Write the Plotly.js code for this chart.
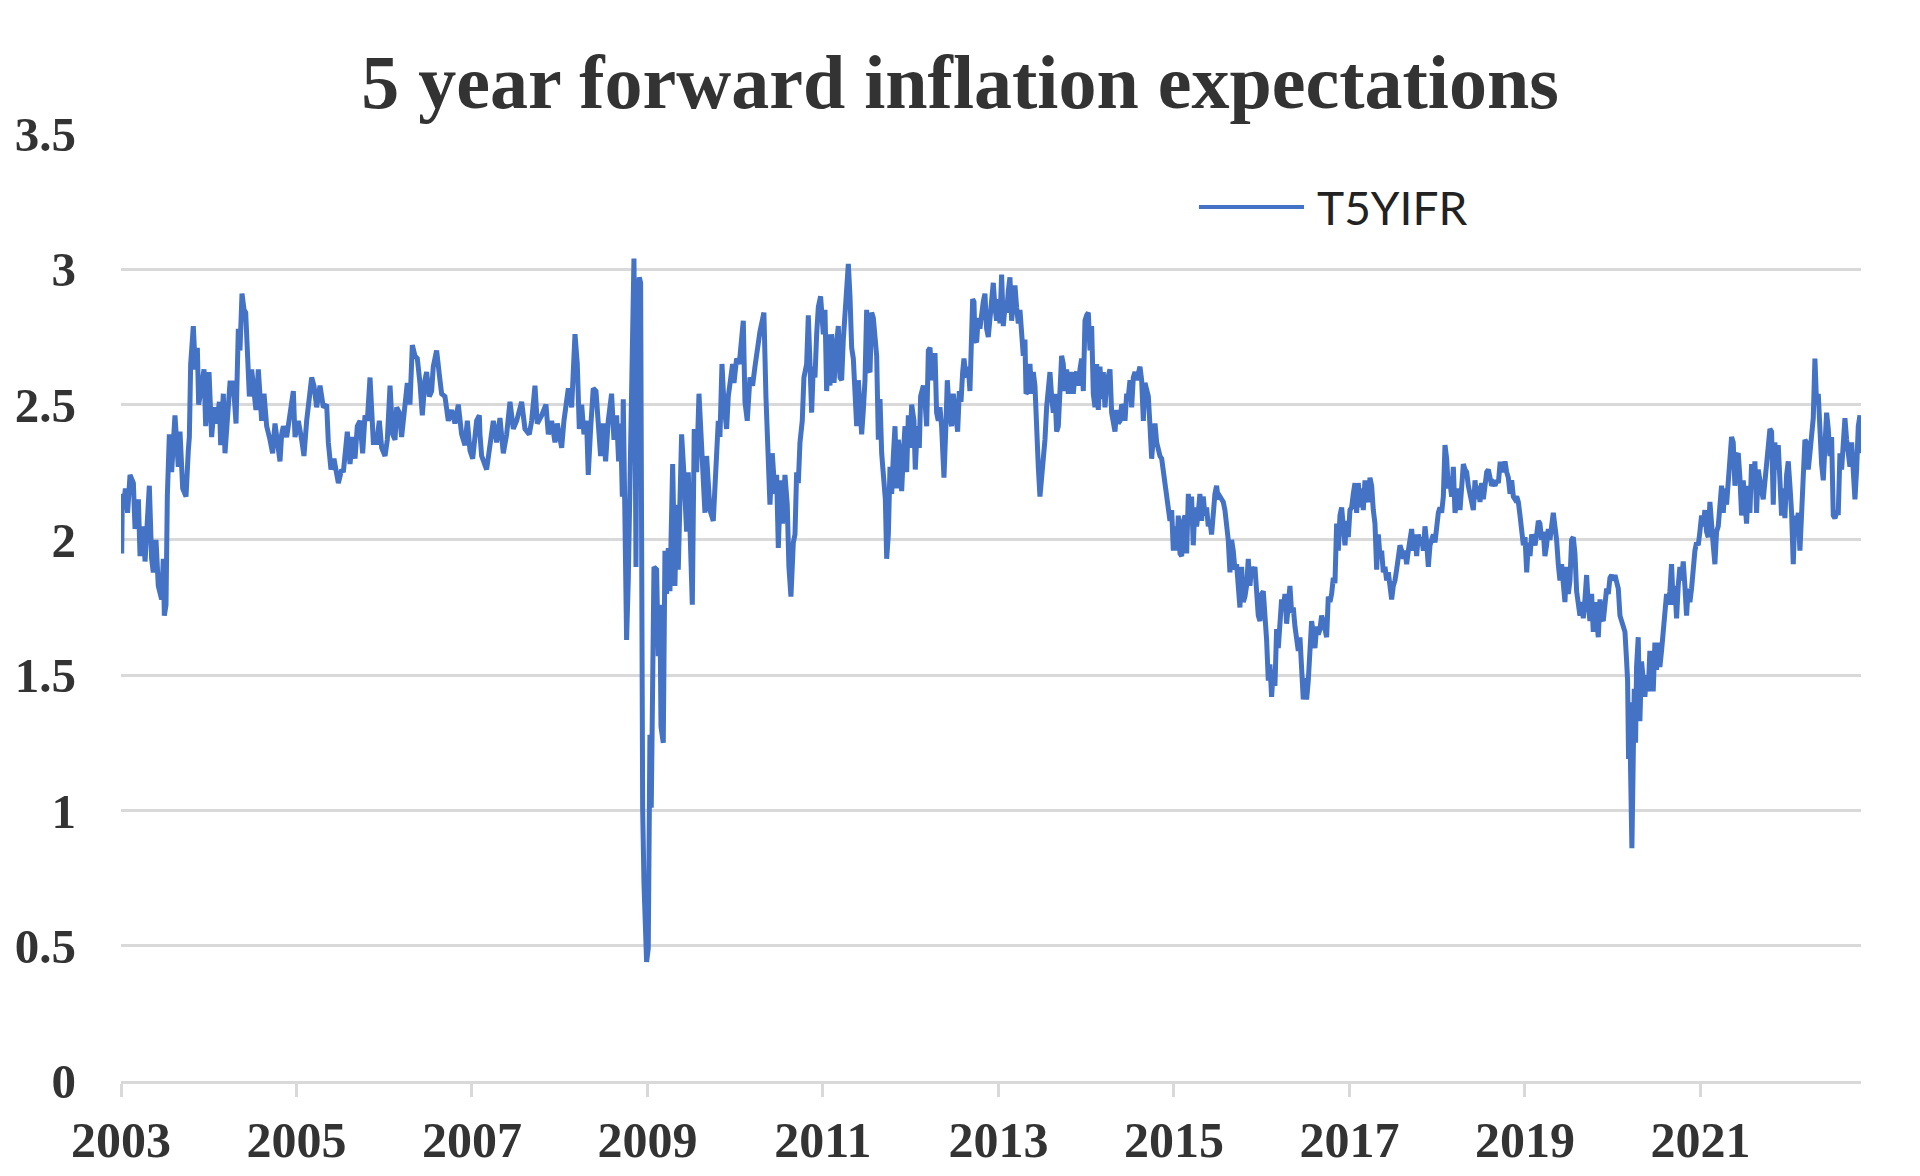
<!DOCTYPE html>
<html>
<head>
<meta charset="utf-8">
<title>5 year forward inflation expectations</title>
<script src="https://cdn.plot.ly/plotly-3.0.1.min.js"></script>
<style>
  html, body { margin: 0; padding: 0; background: #fff; }
  #chart { width: 1920px; height: 1176px; }
</style>
</head>
<body>
<div id="chart"></div>
<script>
// T5YIFR; dates are decimal years.
const dates2003 = [
  2003.008, 2003.015, 2003.027, 2003.050, 2003.075, 2003.103, 2003.141, 2003.160, 2003.198, 2003.217,
  2003.255, 2003.274, 2003.323, 2003.349, 2003.368, 2003.399, 2003.425, 2003.463, 2003.482, 2003.494,
  2003.513, 2003.528, 2003.551, 2003.577, 2003.615, 2003.653, 2003.672, 2003.703, 2003.741, 2003.767,
  2003.779, 2003.794, 2003.824, 2003.847, 2003.870, 2003.885, 2003.919, 2003.946, 2003.965, 2004.003,
  2004.033, 2004.060, 2004.090, 2004.121, 2004.136, 2004.166, 2004.185, 2004.212, 2004.242, 2004.280,
  2004.311, 2004.337, 2004.356, 2004.379, 2004.402, 2004.421, 2004.440, 2004.463, 2004.489, 2004.516,
  2004.538, 2004.565, 2004.603, 2004.630, 2004.660, 2004.698, 2004.728, 2004.755, 2004.793, 2004.812,
  2004.831, 2004.850, 2004.888, 2004.926, 2004.964, 2004.983, 2005.021, 2005.059, 2005.085, 2005.116,
  2005.146, 2005.173, 2005.199, 2005.230, 2005.268, 2005.306, 2005.344, 2005.363, 2005.393, 2005.427,
  2005.477, 2005.515, 2005.534, 2005.553, 2005.579, 2005.610, 2005.640, 2005.667, 2005.693, 2005.724,
  2005.754, 2005.781, 2005.807, 2005.838, 2005.876, 2005.914, 2005.944, 2005.971, 2006.009, 2006.035,
  2006.066, 2006.096, 2006.123, 2006.142, 2006.172, 2006.198, 2006.236, 2006.263, 2006.293, 2006.320,
  2006.350, 2006.377, 2006.407, 2006.434, 2006.464, 2006.483, 2006.514, 2006.540, 2006.559, 2006.597,
  2006.628, 2006.654, 2006.692, 2006.730, 2006.768, 2006.806, 2006.844, 2006.882, 2006.920, 2006.947,
  2006.977, 2007.008, 2007.053, 2007.084
];
const rate2003 = [
  1.95, 2.17, 2.12, 2.19, 2.10, 2.24, 2.21, 2.04, 2.15, 1.94,
  2.05, 1.92, 2.20, 1.93, 1.88, 2.00, 1.83, 1.78, 1.93, 1.72,
  1.76, 2.16, 2.39, 2.25, 2.46, 2.27, 2.40, 2.19, 2.16, 2.33,
  2.38, 2.65, 2.79, 2.63, 2.71, 2.50, 2.59, 2.63, 2.42, 2.62,
  2.38, 2.49, 2.43, 2.51, 2.35, 2.54, 2.32, 2.44, 2.58, 2.58,
  2.43, 2.78, 2.70, 2.91, 2.85, 2.84, 2.71, 2.53, 2.63, 2.52,
  2.48, 2.63, 2.44, 2.54, 2.42, 2.37, 2.32, 2.43, 2.31, 2.29,
  2.39, 2.42, 2.38, 2.46, 2.55, 2.38, 2.44, 2.37, 2.31, 2.44,
  2.52, 2.60, 2.57, 2.49, 2.57, 2.49, 2.50, 2.36, 2.26, 2.30,
  2.21, 2.26, 2.25, 2.34, 2.40, 2.28, 2.38, 2.30, 2.42, 2.44,
  2.32, 2.46, 2.44, 2.60, 2.36, 2.36, 2.44, 2.34, 2.31, 2.37,
  2.57, 2.39, 2.37, 2.49, 2.47, 2.38, 2.48, 2.58, 2.50, 2.72,
  2.68, 2.67, 2.58, 2.46, 2.59, 2.62, 2.53, 2.55, 2.64, 2.70,
  2.61, 2.54, 2.53, 2.44, 2.48, 2.43, 2.50, 2.39, 2.35, 2.44,
  2.33, 2.30, 2.44, 2.46
];

const dates2007 = [
  2007.091, 2007.110, 2007.167, 2007.205, 2007.243, 2007.281, 2007.319, 2007.357, 2007.395, 2007.433,
  2007.471, 2007.509, 2007.566, 2007.604, 2007.653, 2007.680, 2007.718, 2007.744, 2007.794, 2007.843,
  2007.870, 2007.908, 2007.946, 2007.972, 2008.022, 2008.048, 2008.071, 2008.098, 2008.136, 2008.174,
  2008.200, 2008.223, 2008.250, 2008.276, 2008.306, 2008.325, 2008.352, 2008.382, 2008.413, 2008.439,
  2008.466, 2008.496, 2008.523, 2008.553, 2008.591, 2008.618, 2008.648, 2008.671, 2008.694, 2008.713,
  2008.724, 2008.743, 2008.762, 2008.781, 2008.800, 2008.816, 2008.831, 2008.846, 2008.857, 2008.869,
  2008.884, 2008.907, 2008.922, 2008.933, 2008.945, 2008.960, 2008.975, 2008.990, 2009.009, 2009.028,
  2009.043, 2009.059, 2009.074, 2009.104, 2009.123, 2009.142, 2009.154, 2009.180, 2009.199, 2009.218,
  2009.237, 2009.256, 2009.287, 2009.313, 2009.332, 2009.351, 2009.370, 2009.389, 2009.416, 2009.446,
  2009.465, 2009.484, 2009.511, 2009.533, 2009.560, 2009.587, 2009.617, 2009.655, 2009.674, 2009.712,
  2009.750, 2009.769, 2009.788, 2009.807, 2009.826, 2009.849, 2009.872, 2009.902, 2009.921, 2009.948,
  2009.970, 2009.986, 2010.016, 2010.046, 2010.073, 2010.092, 2010.111, 2010.137, 2010.168, 2010.198,
  2010.225, 2010.251, 2010.282, 2010.308, 2010.327, 2010.350, 2010.377, 2010.396, 2010.422, 2010.453,
  2010.472, 2010.491, 2010.517, 2010.540, 2010.567, 2010.593, 2010.612, 2010.635, 2010.662, 2010.681,
  2010.700, 2010.719, 2010.738, 2010.764, 2010.783, 2010.814, 2010.833, 2010.852, 2010.871, 2010.890,
  2010.909, 2010.928, 2010.947, 2010.973, 2011.004, 2011.023, 2011.042, 2011.072
];
const rate2007 = [
  2.39, 2.31, 2.26, 2.36, 2.44, 2.36, 2.45, 2.32, 2.39, 2.51,
  2.41, 2.44, 2.51, 2.41, 2.39, 2.44, 2.57, 2.43, 2.46, 2.50,
  2.39, 2.44, 2.36, 2.43, 2.34, 2.44, 2.51, 2.56, 2.49, 2.76,
  2.65, 2.41, 2.50, 2.39, 2.44, 2.24, 2.41, 2.56, 2.55, 2.41,
  2.31, 2.43, 2.29, 2.44, 2.54, 2.37, 2.46, 2.29, 2.43, 2.16,
  2.52, 2.08, 1.63, 1.85, 2.20, 2.74, 3.00, 3.04, 2.58, 1.90,
  2.86, 2.97, 2.95, 1.89, 1.01, 0.73, 0.58, 0.44, 0.49, 1.28,
  1.01, 1.48, 1.90, 1.89, 1.57, 1.76, 1.31, 1.25, 1.96, 1.80,
  1.97, 1.81, 2.28, 1.83, 2.13, 1.89, 2.27, 2.39, 2.24, 2.03,
  2.25, 2.01, 1.76, 2.41, 2.25, 2.54, 2.31, 2.10, 2.31, 2.11,
  2.07, 2.22, 2.29, 2.44, 2.38, 2.65, 2.50, 2.41, 2.53, 2.61,
  2.65, 2.58, 2.67, 2.65, 2.76, 2.81, 2.51, 2.44, 2.60, 2.57,
  2.64, 2.71, 2.77, 2.81, 2.84, 2.53, 2.34, 2.13, 2.32, 2.17,
  2.24, 1.97, 2.22, 2.06, 2.24, 2.13, 1.90, 1.79, 1.99, 2.02,
  2.25, 2.21, 2.36, 2.44, 2.60, 2.65, 2.83, 2.67, 2.47, 2.64,
  2.60, 2.76, 2.86, 2.90, 2.76, 2.85, 2.55, 2.76
];

const dates2011 = [
  2011.080, 2011.099, 2011.126, 2011.156, 2011.175, 2011.194, 2011.213, 2011.232, 2011.251, 2011.270,
  2011.289, 2011.308, 2011.327, 2011.346, 2011.365, 2011.384, 2011.403, 2011.422, 2011.441, 2011.460,
  2011.479, 2011.498, 2011.517, 2011.536, 2011.555, 2011.574, 2011.593, 2011.612, 2011.631, 2011.650,
  2011.669, 2011.680, 2011.695, 2011.711, 2011.726, 2011.745, 2011.764, 2011.783, 2011.802, 2011.821,
  2011.840, 2011.859, 2011.878, 2011.897, 2011.916, 2011.935, 2011.954, 2011.973, 2011.992, 2012.011,
  2012.037, 2012.052, 2012.075, 2012.098, 2012.113, 2012.144, 2012.163, 2012.182, 2012.201, 2012.220,
  2012.239, 2012.258, 2012.277, 2012.295, 2012.314, 2012.333, 2012.352, 2012.379, 2012.402, 2012.417,
  2012.440, 2012.466, 2012.485, 2012.512, 2012.535, 2012.554, 2012.573, 2012.592, 2012.607, 2012.630,
  2012.656, 2012.675, 2012.691, 2012.706, 2012.721, 2012.732, 2012.751, 2012.770, 2012.789, 2012.808,
  2012.827, 2012.846, 2012.865, 2012.884, 2012.903, 2012.922, 2012.941, 2012.960, 2012.979, 2012.998,
  2013.017, 2013.036, 2013.055, 2013.074, 2013.093, 2013.112, 2013.131, 2013.150, 2013.169, 2013.188,
  2013.207, 2013.226, 2013.245, 2013.264, 2013.283, 2013.302, 2013.314, 2013.340, 2013.359, 2013.378,
  2013.397, 2013.416, 2013.435, 2013.454, 2013.473, 2013.492, 2013.511, 2013.530, 2013.549, 2013.568,
  2013.587, 2013.606, 2013.625, 2013.644, 2013.663, 2013.682, 2013.701, 2013.720, 2013.739, 2013.758,
  2013.777, 2013.796, 2013.815, 2013.834, 2013.853, 2013.872, 2013.891, 2013.910, 2013.929, 2013.948,
  2013.967, 2013.986, 2014.005, 2014.024, 2014.043, 2014.062, 2014.081, 2014.100, 2014.119, 2014.138,
  2014.157, 2014.176, 2014.195, 2014.214, 2014.233, 2014.252, 2014.271, 2014.290, 2014.309, 2014.328,
  2014.347, 2014.366, 2014.385, 2014.404, 2014.423, 2014.442, 2014.461, 2014.480, 2014.499, 2014.518,
  2014.537, 2014.556, 2014.575, 2014.594, 2014.613, 2014.632, 2014.651, 2014.670, 2014.689, 2014.708,
  2014.727, 2014.746, 2014.765, 2014.784, 2014.803, 2014.822, 2014.841, 2014.860, 2014.879, 2014.898,
  2014.917, 2014.936, 2014.955, 2014.974, 2014.993, 2015.012, 2015.031, 2015.050, 2015.069, 2015.088,
  2015.107, 2015.126, 2015.145, 2015.164
];
const rate2011 = [
  2.57, 2.76, 2.58, 2.73, 2.79, 2.60, 2.59, 2.74, 2.86, 2.94,
  3.02, 2.90, 2.71, 2.67, 2.50, 2.42, 2.59, 2.48, 2.39, 2.48,
  2.59, 2.85, 2.63, 2.62, 2.84, 2.82, 2.73, 2.68, 2.37, 2.52,
  2.32, 2.26, 2.23, 2.15, 1.93, 2.02, 2.27, 2.17, 2.31, 2.42,
  2.19, 2.37, 2.31, 2.18, 2.32, 2.42, 2.25, 2.46, 2.34, 2.50,
  2.44, 2.26, 2.42, 2.34, 2.53, 2.57, 2.51, 2.42, 2.70, 2.71,
  2.59, 2.62, 2.69, 2.47, 2.44, 2.49, 2.42, 2.23, 2.43, 2.59,
  2.47, 2.42, 2.54, 2.47, 2.40, 2.55, 2.51, 2.62, 2.67, 2.60,
  2.64, 2.55, 2.70, 2.89, 2.88, 2.74, 2.73, 2.82, 2.78, 2.86,
  2.88, 2.91, 2.78, 2.75, 2.82, 2.89, 2.95, 2.86, 2.81, 2.89,
  2.80, 2.98, 2.79, 2.86, 2.84, 2.92, 2.97, 2.81, 2.88, 2.94,
  2.86, 2.80, 2.85, 2.76, 2.68, 2.74, 2.54, 2.55, 2.65, 2.54,
  2.62, 2.57, 2.37, 2.27, 2.16, 2.23, 2.26, 2.37, 2.49, 2.55,
  2.62, 2.53, 2.47, 2.54, 2.40, 2.42, 2.52, 2.68, 2.65, 2.55,
  2.63, 2.54, 2.59, 2.62, 2.54, 2.61, 2.62, 2.57, 2.63, 2.67,
  2.55, 2.81, 2.83, 2.84, 2.70, 2.79, 2.54, 2.49, 2.65, 2.48,
  2.64, 2.52, 2.62, 2.49, 2.58, 2.62, 2.63, 2.47, 2.44, 2.40,
  2.48, 2.43, 2.44, 2.50, 2.49, 2.44, 2.54, 2.53, 2.59, 2.49,
  2.60, 2.62, 2.59, 2.63, 2.64, 2.59, 2.44, 2.58, 2.55, 2.53,
  2.42, 2.30, 2.38, 2.43, 2.36, 2.33, 2.31, 2.30, 2.26, 2.21,
  2.18, 2.12, 2.07, 2.11, 1.96, 2.05, 1.96, 2.09, 1.95, 1.94,
  2.07, 2.09, 1.95, 2.17
];

const dates2015 = [
  2015.182, 2015.201, 2015.220, 2015.239, 2015.258, 2015.277, 2015.296, 2015.315, 2015.334, 2015.353,
  2015.372, 2015.391, 2015.410, 2015.429, 2015.448, 2015.467, 2015.486, 2015.505, 2015.524, 2015.543,
  2015.562, 2015.581, 2015.600, 2015.619, 2015.638, 2015.657, 2015.676, 2015.695, 2015.714, 2015.733,
  2015.752, 2015.771, 2015.790, 2015.809, 2015.828, 2015.847, 2015.866, 2015.885, 2015.904, 2015.923,
  2015.942, 2015.961, 2015.980, 2015.999, 2016.018, 2016.037, 2016.056, 2016.075, 2016.094, 2016.113,
  2016.132, 2016.151, 2016.170, 2016.189, 2016.208, 2016.227, 2016.246, 2016.265, 2016.284, 2016.303,
  2016.322, 2016.341, 2016.360, 2016.379, 2016.398, 2016.417, 2016.436, 2016.455, 2016.474, 2016.493,
  2016.512, 2016.531, 2016.550, 2016.569, 2016.588, 2016.607, 2016.626, 2016.645, 2016.664, 2016.683,
  2016.702, 2016.721, 2016.740, 2016.759, 2016.778, 2016.797, 2016.816, 2016.835, 2016.854, 2016.873,
  2016.892, 2016.911, 2016.930, 2016.949, 2016.968, 2016.987, 2017.006, 2017.025, 2017.044, 2017.063,
  2017.082, 2017.101, 2017.120, 2017.139, 2017.158, 2017.177, 2017.196, 2017.215, 2017.234, 2017.253,
  2017.272, 2017.291, 2017.310, 2017.329, 2017.348, 2017.367, 2017.386, 2017.405, 2017.424, 2017.443,
  2017.462, 2017.481, 2017.500, 2017.519, 2017.538, 2017.557, 2017.576, 2017.595, 2017.614, 2017.633,
  2017.652, 2017.671, 2017.690, 2017.709, 2017.728, 2017.747, 2017.766, 2017.785, 2017.804, 2017.823,
  2017.842, 2017.861, 2017.880, 2017.899, 2017.918, 2017.937, 2017.956, 2017.975, 2017.994, 2018.013,
  2018.032, 2018.051, 2018.070, 2018.089, 2018.108, 2018.127, 2018.146, 2018.165, 2018.184, 2018.203,
  2018.222, 2018.241, 2018.260, 2018.279, 2018.298, 2018.317, 2018.336, 2018.355, 2018.374, 2018.393,
  2018.412, 2018.431, 2018.450, 2018.469, 2018.488, 2018.507, 2018.526, 2018.545, 2018.564, 2018.583,
  2018.602, 2018.621, 2018.640, 2018.659, 2018.678, 2018.697, 2018.716, 2018.735, 2018.754, 2018.773,
  2018.792, 2018.811, 2018.830, 2018.849, 2018.868, 2018.887, 2018.906, 2018.925, 2018.944, 2018.963,
  2018.982, 2019.001, 2019.020, 2019.039, 2019.058, 2019.077, 2019.096, 2019.115, 2019.134, 2019.153
];
const rate2015 = [
  2.07, 2.16, 1.98, 2.12, 2.05, 2.10, 2.17, 2.07, 2.16, 2.09,
  2.12, 2.05, 2.07, 2.02, 2.11, 2.17, 2.20, 2.15, 2.16, 2.15,
  2.14, 2.11, 2.07, 2.00, 1.88, 2.00, 1.96, 1.89, 1.91, 1.80,
  1.75, 1.90, 1.77, 1.79, 1.83, 1.93, 1.83, 1.90, 1.88, 1.90,
  1.77, 1.72, 1.70, 1.80, 1.81, 1.73, 1.63, 1.48, 1.54, 1.42,
  1.52, 1.46, 1.67, 1.60, 1.70, 1.78, 1.75, 1.80, 1.69, 1.78,
  1.83, 1.73, 1.75, 1.68, 1.63, 1.59, 1.64, 1.53, 1.41, 1.49,
  1.41, 1.48, 1.57, 1.70, 1.65, 1.60, 1.68, 1.65, 1.67, 1.72,
  1.70, 1.67, 1.64, 1.79, 1.77, 1.80, 1.86, 1.84, 2.06, 1.96,
  2.09, 2.12, 2.01, 1.98, 2.07, 2.01, 2.11, 2.12, 2.17, 2.21,
  2.10, 2.21, 2.12, 2.19, 2.11, 2.22, 2.16, 2.14, 2.23, 2.20,
  2.11, 2.06, 1.89, 2.02, 1.94, 1.96, 1.88, 1.90, 1.85, 1.88,
  1.83, 1.78, 1.83, 1.85, 1.89, 1.94, 1.98, 1.96, 1.93, 1.96,
  1.91, 1.96, 2.02, 2.04, 1.96, 2.02, 1.94, 2.02, 1.98, 2.01,
  1.96, 2.05, 1.99, 1.90, 1.98, 2.00, 2.02, 1.99, 2.05, 2.10,
  2.12, 2.10, 2.16, 2.35, 2.30, 2.19, 2.21, 2.16, 2.27, 2.10,
  2.14, 2.19, 2.11, 2.22, 2.28, 2.26, 2.25, 2.20, 2.17, 2.15,
  2.11, 2.22, 2.15, 2.20, 2.14, 2.21, 2.15, 2.20, 2.25, 2.26,
  2.23, 2.20, 2.21, 2.20, 2.22, 2.21, 2.28, 2.28, 2.25, 2.29,
  2.25, 2.23, 2.17, 2.22, 2.16, 2.15, 2.16, 2.14, 2.09, 2.02,
  1.98, 2.01, 1.88, 1.99, 1.94, 2.02, 1.99, 1.98, 2.02, 2.07
];

const dates2019 = [
  2019.171, 2019.190, 2019.209, 2019.228, 2019.247, 2019.266, 2019.285, 2019.304, 2019.323, 2019.342,
  2019.361, 2019.380, 2019.399, 2019.418, 2019.437, 2019.456, 2019.475, 2019.494, 2019.513, 2019.532,
  2019.551, 2019.570, 2019.589, 2019.608, 2019.627, 2019.646, 2019.665, 2019.684, 2019.703, 2019.722,
  2019.741, 2019.760, 2019.779, 2019.798, 2019.817, 2019.836, 2019.855, 2019.874, 2019.893, 2019.912,
  2019.931, 2019.950, 2019.969, 2019.988, 2020.007, 2020.026, 2020.045, 2020.064, 2020.083, 2020.102,
  2020.121, 2020.140, 2020.159,
  2020.170, 2020.181, 2020.193, 2020.204, 2020.219, 2020.235, 2020.246, 2020.261,
  2020.272, 2020.291, 2020.310, 2020.329, 2020.348, 2020.367, 2020.386, 2020.405, 2020.424, 2020.443,
  2020.462, 2020.481, 2020.500, 2020.519, 2020.538, 2020.557, 2020.576, 2020.595, 2020.614, 2020.633,
  2020.652, 2020.671, 2020.690, 2020.709, 2020.728, 2020.747, 2020.766, 2020.785, 2020.804, 2020.823,
  2020.842, 2020.861, 2020.880, 2020.899, 2020.918, 2020.937, 2020.956, 2020.975, 2020.994, 2021.013,
  2021.032, 2021.051, 2021.070, 2021.089, 2021.108, 2021.127, 2021.146, 2021.165, 2021.184, 2021.203,
  2021.222, 2021.241, 2021.260, 2021.279, 2021.298, 2021.317, 2021.336, 2021.355, 2021.374, 2021.393,
  2021.412, 2021.431, 2021.450, 2021.469, 2021.488, 2021.507, 2021.526, 2021.545, 2021.564, 2021.583,
  2021.602, 2021.621, 2021.640, 2021.659, 2021.678, 2021.697, 2021.716, 2021.735, 2021.754, 2021.773,
  2021.792, 2021.811, 2021.830, 2021.849, 2021.868, 2021.887, 2021.906, 2021.925, 2021.944, 2021.963,
  2021.982, 2022.001, 2022.020, 2022.039, 2022.058, 2022.077, 2022.096, 2022.115, 2022.134, 2022.153,
  2022.172, 2022.191, 2022.210, 2022.229, 2022.248, 2022.267, 2022.286, 2022.305, 2022.324, 2022.343,
  2022.362, 2022.381, 2022.400, 2022.419, 2022.438, 2022.457, 2022.476, 2022.495, 2022.514, 2022.533,
  2022.552, 2022.571, 2022.590, 2022.609, 2022.628, 2022.647, 2022.666, 2022.685, 2022.704, 2022.723,
  2022.742, 2022.761, 2022.780, 2022.799, 2022.818, 2022.825
];
const rate2019 = [
  2.06, 2.00, 2.03, 1.94, 1.98, 2.04, 2.00, 2.05, 2.10, 2.05,
  2.00, 1.91, 1.85, 1.91, 1.85, 1.77, 1.90, 1.80, 1.85, 2.00,
  2.01, 1.95, 1.81, 1.75, 1.72, 1.77, 1.71, 1.78, 1.87, 1.76,
  1.70, 1.80, 1.66, 1.77, 1.72, 1.64, 1.78, 1.71, 1.70, 1.75,
  1.82, 1.80, 1.86, 1.87, 1.85, 1.87, 1.83, 1.82, 1.72, 1.70,
  1.68, 1.66, 1.55,
  1.48, 1.19, 1.40, 1.15, 0.86, 1.21, 1.45, 1.25,
  1.53, 1.64, 1.33, 1.55, 1.48, 1.42, 1.50, 1.44, 1.59, 1.52,
  1.44, 1.62, 1.52, 1.62, 1.53, 1.59, 1.67, 1.72, 1.80, 1.76,
  1.81, 1.91, 1.76, 1.83, 1.71, 1.83, 1.90, 1.85, 1.92, 1.83,
  1.72, 1.82, 1.77, 1.82, 1.91, 1.96, 1.99, 1.98, 2.03, 2.09,
  2.05, 2.11, 2.03, 2.01, 2.14, 2.08, 1.98, 1.91, 2.03, 2.05,
  2.15, 2.20, 2.10, 2.19, 2.13, 2.24, 2.28, 2.38, 2.36, 2.20,
  2.31, 2.32, 2.23, 2.09, 2.22, 2.10, 2.06, 2.20, 2.10, 2.28,
  2.19, 2.29, 2.10, 2.26, 2.20, 2.18, 2.15, 2.23, 2.28, 2.36,
  2.41, 2.40, 2.13, 2.36, 2.26, 2.35, 2.19, 2.09, 2.19, 2.08,
  2.24, 2.29, 2.20, 2.10, 1.91, 2.09, 2.05, 2.10, 1.96, 2.09,
  2.23, 2.37, 2.36, 2.26, 2.32, 2.37, 2.45, 2.67, 2.50, 2.54,
  2.38, 2.28, 2.22, 2.38, 2.47, 2.41, 2.31, 2.38, 2.09, 2.08,
  2.10, 2.10, 2.32, 2.26, 2.40, 2.45, 2.37, 2.33, 2.27, 2.36,
  2.23, 2.15, 2.26, 2.42, 2.46, 2.32
];

const tickYears = [2003, 2005, 2007, 2009, 2011, 2013, 2015, 2017, 2019, 2021];
const tickLabels = ['2003', '2005', '2007', '2009', '2011', '2013', '2015', '2017', '2019', '2021'];
const seriesName = 'T5YIFR';

const LINE_BLUE = '#4472C4';
const GRID_GREY = '#d9d9d9';
const TEXT_DARK = '#333333';
const SERIF = '"Liberation Serif", "Times New Roman", serif';

const x = [].concat(dates2003, dates2007, dates2011, dates2015, dates2019);
const y = [].concat(rate2003, rate2007, rate2011, rate2015, rate2019);

const trace = {
  type: 'scatter',
  mode: 'lines',
  name: seriesName,
  x,
  y,
  line: { color: LINE_BLUE, width: 5 },
  hoverinfo: 'skip',
};

const layout = {
  width: 1920,
  height: 1176,
  margin: { l: 121, r: 59, t: 134, b: 95 },
  paper_bgcolor: '#ffffff',
  plot_bgcolor: '#ffffff',
  showlegend: false,
  title: {
    text: '5 year forward inflation expectations',
    font: { family: SERIF, size: 76, color: TEXT_DARK, weight: 'bold' },
    x: 0.5,
    xref: 'container',
    xanchor: 'center',
    y: 0.9305,
    yref: 'container',
    yanchor: 'middle',
  },
  xaxis: {
    type: 'linear',
    range: [2003, 2022.83],
    tickmode: 'array',
    tickvals: tickYears,
    ticktext: tickLabels,
    showgrid: false,
    zeroline: false,
    showline: true,
    linecolor: GRID_GREY,
    linewidth: 3,
    ticks: 'outside',
    ticklen: 13,
    tickwidth: 3,
    tickcolor: GRID_GREY,
    ticklabelstandoff: 0,
    tickfont: { family: SERIF, size: 50, color: TEXT_DARK, weight: 'bold' },
    fixedrange: true,
  },
  yaxis: {
    range: [0, 3.5],
    tick0: 0,
    dtick: 0.5,
    showgrid: true,
    gridcolor: GRID_GREY,
    gridwidth: 3,
    zeroline: false,
    showline: false,
    ticks: '',
    ticklabelstandoff: 44,
    tickfont: { family: SERIF, size: 49, color: TEXT_DARK, weight: 'bold' },
    fixedrange: true,
  },
  // hand-placed legend: long swatch like the original
  shapes: [{
    type: 'line',
    xref: 'paper',
    yref: 'paper',
    x0: 0.6195,
    x1: 0.6799,
    y0: 0.9229,
    y1: 0.9229,
    line: { color: LINE_BLUE, width: 4 },
  }],
  annotations: [{
    text: seriesName,
    xref: 'paper',
    yref: 'paper',
    x: 0.6862,
    y: 0.9229,
    xanchor: 'left',
    yanchor: 'middle',
    showarrow: false,
    font: { family: 'Lato, "Liberation Sans", sans-serif', size: 46, color: '#222222' },
  }],
};

Plotly.newPlot('chart', [trace], layout, { staticPlot: true, displayModeBar: false, responsive: false });
</script>
</body>
</html>
